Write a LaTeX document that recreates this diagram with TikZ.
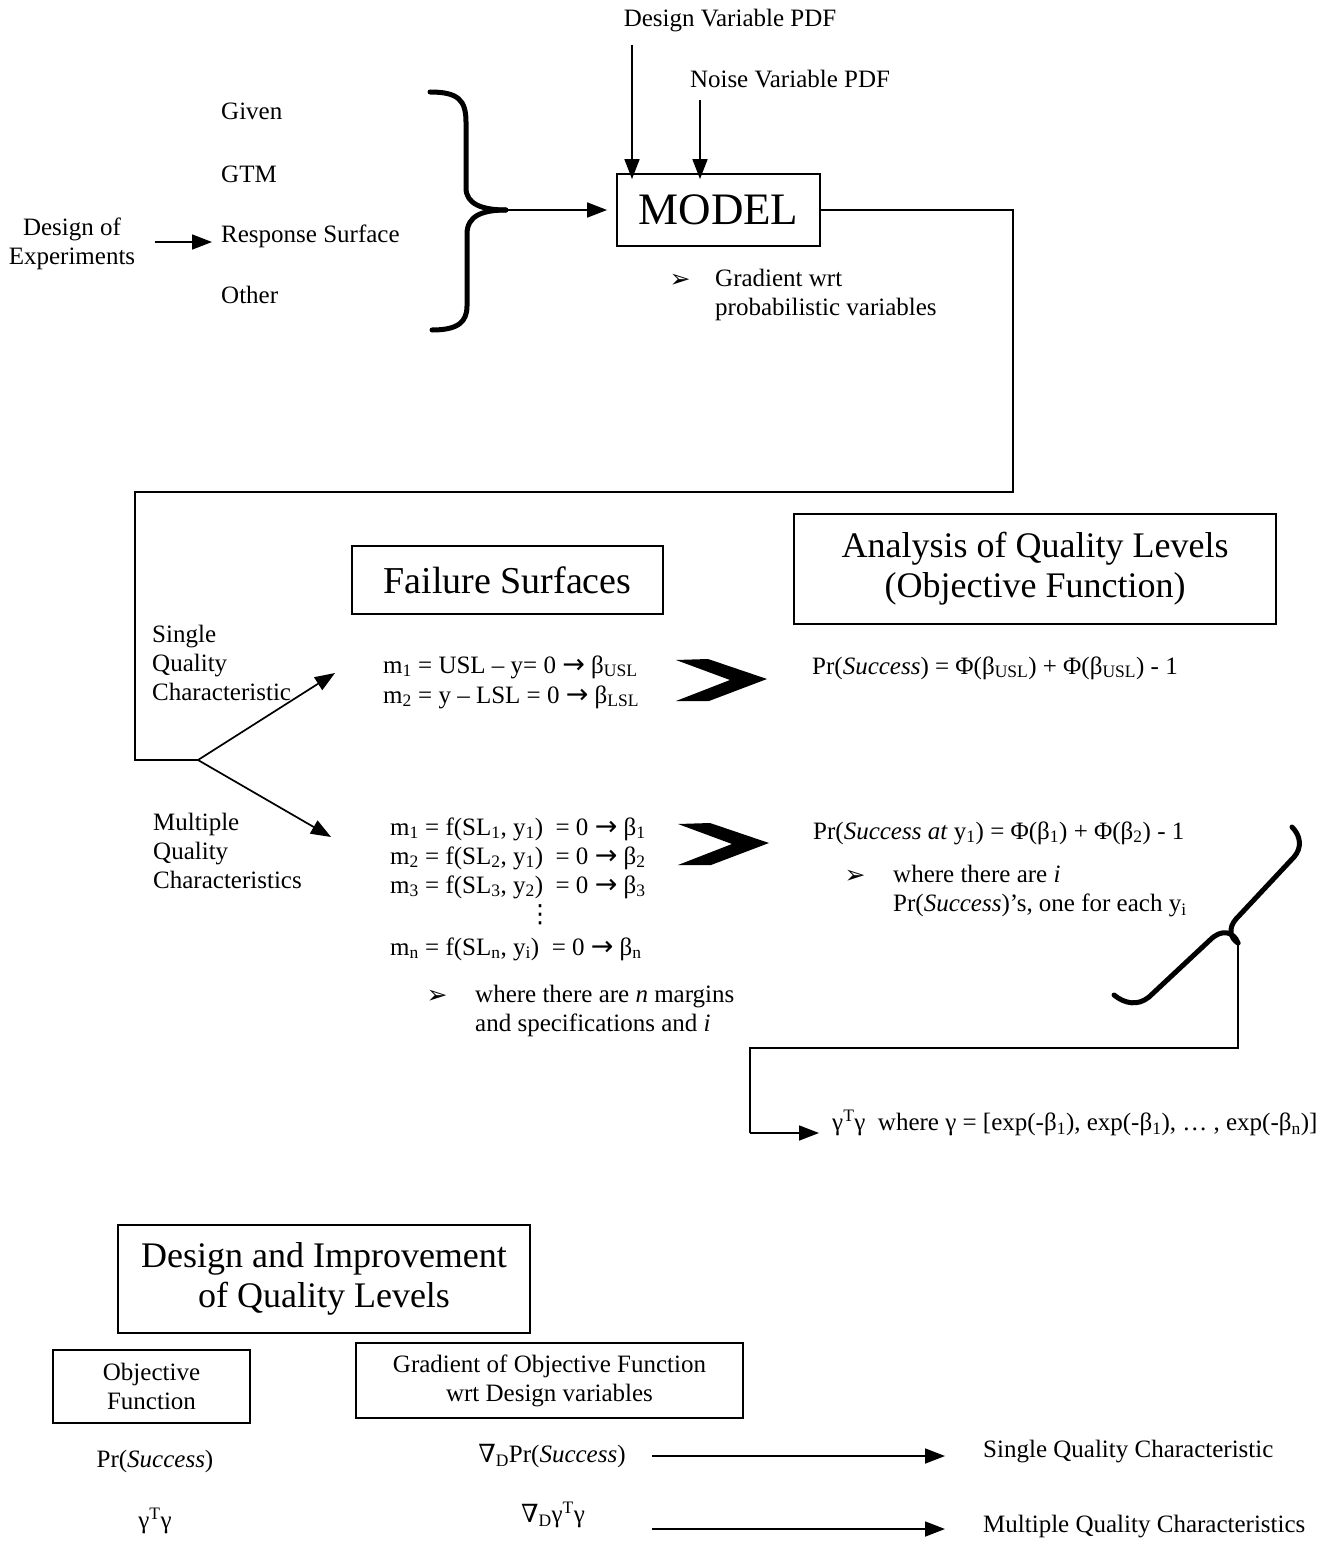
\documentclass[tikz,border=0pt]{standalone}
\usepackage{fontspec}
\setmainfont{Liberation Serif}
\newfontfamily\symfont{DejaVu Sans}
\newfontfamily\symserif{DejaVu Serif}
\usetikzlibrary{arrows.meta}

\newcommand\txtsize{\fontsize{25}{29}\selectfont}
\newcommand\headsize{\fontsize{36}{40}\selectfont}
\newcommand\lo[1]{\textsubscript{#1}}
\newcommand\hi[1]{\textsuperscript{#1}}
\newcommand\bul{{\symfont\fontsize{25}{25}\selectfont ➢}}
\newcommand\nab{{\symserif ∇}}
\newcommand\yields{{\symfont\fontsize{27}{27}\selectfont →}}
\newcommand\vdotsym{{\symfont ⋮}}

\tikzset{
  lbl/.style={inner sep=0pt, font=\txtsize},
  frame/.style={draw, line width=1.8pt, inner sep=0pt, align=center},
  conn/.style={line width=1.7pt},
  arr/.style={conn, -{Triangle[length=20pt,width=15pt]}},
  brace/.style={line width=5pt, line cap=round, line join=round},
  chevron/.style={fill=black}
}

\begin{document}
\begin{tikzpicture}[x=1pt,y=-1pt]
\useasboundingbox (0,0) rectangle (1335,1541);

% ---------- model inputs ----------
\node[lbl] (dvpdf) at (730,21) {Design Variable PDF};
\node[lbl] (nvpdf) at (790,79) {Noise Variable PDF};

\node[lbl, anchor=west] (given) at (221,111) {Given};
\node[lbl, anchor=west] (gtm)   at (221,174) {GTM};
\node[lbl, anchor=west] (rs)    at (221,236) {Response Surface};
\node[lbl, anchor=west] (other) at (221,295) {Other};
\node[lbl, align=center] (doe) at (72,244) {Design of\\Experiments};

\coordinate (doeout) at (155,242);
\draw[arr, shorten >=9pt] (doeout) -- (doeout -| rs.west);

% brace gathering the model sources
\draw[brace] (430,92) .. controls (458,92) and (466,100) .. (466,122)
  -- (466,188) .. controls (466,204) and (482,210) .. (506,210);
\draw[brace] (506,210) .. controls (482,210) and (467,216) .. (467,234)
  -- (467,306) .. controls (467,322) and (458,330) .. (432,330);
\coordinate (bracetip) at (506,210);

\node[frame, minimum width=203pt, minimum height=72pt, font=\fontsize{45}{48}\selectfont]
  (model) at (718.5,210) {MODEL};

\draw[arr] (bracetip) -- ([xshift=-9pt]model.west);
\coordinate (dvs) at (632,45);
\coordinate (nvs) at (700,100);
\draw[arr] (dvs) -- ([yshift=-6pt]model.north -| dvs);
\draw[arr] (nvs) -- ([yshift=-6pt]model.north -| nvs);

\node[lbl] (gb) at (680,281) {\bul};
\node[lbl, anchor=west, align=left] (gradwrt) at (715,295)
  {Gradient wrt\\probabilistic variables};

% route from the model down to the quality analysis
\coordinate (r1) at (1013,210);
\coordinate (r2) at (1013,492);
\coordinate (r3) at (135,492);
\coordinate (r4) at (135,760);
\coordinate (fork) at (198,760);
\draw[conn, line join=miter] (model.east) -- (r1) -- (r2) -- (r3) -- (r4) -- (fork);
\coordinate (upend) at (335,673);
\coordinate (downend) at (331,837);
\draw[arr] (fork) -- (upend);
\draw[arr] (fork) -- (downend);

% ---------- failure surfaces and quality levels ----------
\node[frame, minimum width=311pt, minimum height=68pt, font=\fontsize{38}{42}\selectfont]
  (fail) at (507.5,580) {Failure Surfaces};
\node[frame, minimum width=482pt, minimum height=110pt, font=\headsize]
  (anal) at (1035,569) {Analysis of Quality Levels\\(Objective Function)};

\node[lbl, anchor=west, align=left] (single) at (152,663)
  {Single\\Quality\\Characteristic};
\node[lbl, anchor=west, align=left] (multi) at (153,851)
  {Multiple\\Quality\\Characteristics};

\node[lbl, anchor=west] (s1) at (383,667) {m\lo{1} = USL – y= 0 \yields\ β\lo{USL}};
\node[lbl, anchor=west] (s2) at (383,697) {m\lo{2} = y – LSL = 0 \yields\ β\lo{LSL}};

\fill[chevron] (676,660) -- (708,659) -- (767,679) -- (709,701) -- (676,701) -- (730,680) -- cycle;
\fill[chevron] (678,824) -- (710,823) -- (769,843) -- (711,865) -- (678,865) -- (732,844) -- cycle;

\node[lbl, anchor=west] (prs1) at (812,668)
  {Pr(\textit{Success}) = Φ(β\lo{USL}) + Φ(β\lo{USL}) - 1};

\node[lbl, anchor=west] (mm1) at (390,829) {m\lo{1} = f(SL\lo{1}, y\lo{1})\ \ = 0 \yields\ β\lo{1}};
\node[lbl, anchor=west] (mm2) at (390,858) {m\lo{2} = f(SL\lo{2}, y\lo{1})\ \ = 0 \yields\ β\lo{2}};
\node[lbl, anchor=west] (mm3) at (390,887) {m\lo{3} = f(SL\lo{3}, y\lo{2})\ \ = 0 \yields\ β\lo{3}};
\node[lbl] (mdots) at (540,915) {\vdotsym};
\node[lbl, anchor=west] (mmn) at (390,949) {m\lo{n} = f(SL\lo{n}, y\lo{i})\ \ = 0 \yields\ β\lo{n}};

\node[lbl] (mb) at (437,997) {\bul};
\node[lbl, anchor=west, align=left] (mwhere) at (475,1011)
  {where there are \textit{n} margins\\and specifications and \textit{i}};

\node[lbl, anchor=west] (prs2) at (813,833)
  {Pr(\textit{Success at} y\lo{1}) = Φ(β\lo{1}) + Φ(β\lo{2}) - 1};
\node[lbl] (pb) at (855,877) {\bul};
\node[lbl, anchor=west, align=left] (pwhere) at (893,891)
  {where there are \textit{i}\\Pr(\textit{Success})’s, one for each y\lo{i}};

% slanted brace collecting the individual probabilities
\draw[brace] (1292,827) .. controls (1301,836) and (1302,848) .. (1294,857)
  -- (1236,919) .. controls (1228,928) and (1230,938) .. (1238,943);
\draw[brace] (1238,943) .. controls (1234,932) and (1222,928) .. (1210,940)
  -- (1149,997) .. controls (1138,1006) and (1125,1004) .. (1114,995);
\coordinate (btip) at (1238,943);
\coordinate (g1) at (1238,1048);
\coordinate (g2) at (750,1048);
\coordinate (g3) at (750,1133);
\coordinate (g4) at (819,1133);
\draw[conn] (btip) -- (g1) -- (g2) -- (g3);
\draw[arr] (g3) -- (g4);

\node[lbl, anchor=west] (gam) at (832,1123)
  {γ\hi{T}γ\ \ where γ = [exp(-β\lo{1}), exp(-β\lo{1}), … , exp(-β\lo{n})]};

% ---------- design and improvement ----------
\node[frame, minimum width=412pt, minimum height=108pt, font=\headsize]
  (dim) at (324,1279) {Design and Improvement\\of Quality Levels};
\node[frame, minimum width=197pt, minimum height=73pt, font=\txtsize]
  (obj) at (151.5,1386.5) {Objective\\Function};
\node[frame, minimum width=387pt, minimum height=75pt, font=\txtsize]
  (grad) at (549.5,1380.5) {Gradient of Objective Function\\wrt Design variables};

\node[lbl] (prs) at (155,1461) {Pr(\textit{Success})};
\node[lbl] (gtg) at (155,1521) {γ\hi{T}γ};
\node[lbl] (gradpr) at (552,1456) {\nab\lo{D}Pr(\textit{Success})};
\node[lbl] (gradgtg) at (553,1515) {\nab\lo{D}γ\hi{T}γ};

\node[lbl, anchor=west] (sqc) at (983,1452) {Single Quality Characteristic};
\node[lbl, anchor=west] (mqc) at (983,1527) {Multiple Quality Characteristics};

\coordinate (a1) at (652,1456);
\coordinate (a2) at (652,1529);
\draw[arr, shorten >=38pt] (a1) -- (a1 -| sqc.west);
\draw[arr, shorten >=38pt] (a2) -- (a2 -| mqc.west);
\end{tikzpicture}
\end{document}
